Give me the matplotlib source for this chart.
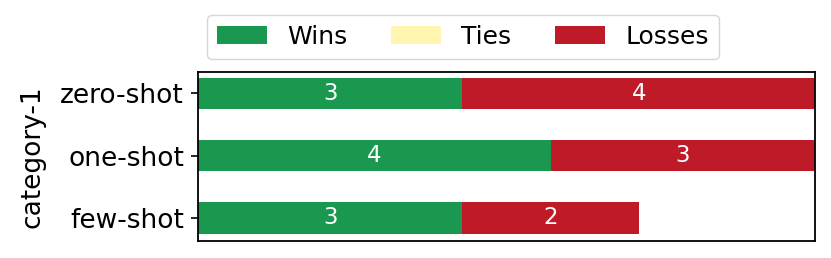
import matplotlib.pyplot as plt
import numpy as np

categories = ["zero-shot", "one-shot", "few-shot"]
wins = [3, 4, 3]
ties = [0, 0, 0]
losses = [4, 3, 2]

series_names = ["Wins", "Ties", "Losses"]
colors = ["#1a9850", "#fff5b0", "#be1a28"]

fig = plt.figure(figsize=(8.31, 2.58), dpi=100)
ax = fig.add_axes([198 / 831, 1 - 241 / 258, (815 - 198) / 831, (241 - 72) / 258])

y = np.arange(len(categories))
left = np.zeros(len(categories))
for name, vals, col in zip(series_names, [wins, ties, losses], colors):
    vals = np.array(vals, dtype=float)
    bars = ax.barh(y, vals, left=left, height=0.5, color=col, label=name)
    for b, v in zip(bars, vals):
        if v > 0:
            ax.text(b.get_x() + b.get_width() / 2, b.get_y() + b.get_height() / 2,
                    f"{int(v)}", ha="center", va="center", color="white", fontsize=16.5)
    left += vals

ax.set_xlim(0, 7)
ax.set_ylim(2.37, -0.34)
ax.set_yticks(y)
ax.set_yticklabels(categories, fontsize=19)
ax.tick_params(axis="y", length=5, width=1.2, pad=5)
ax.set_xticks([])
ax.set_ylabel("category-1", fontsize=19, labelpad=11)
for s in ax.spines.values():
    s.set_linewidth(1.3)

fig.legend(loc="lower center", bbox_to_anchor=(463 / 831, 1 - 71 / 258), ncol=3,
           fontsize=18, handlelength=2.0, columnspacing=1.75, frameon=True)

fig.savefig("out.png", dpi=100)
